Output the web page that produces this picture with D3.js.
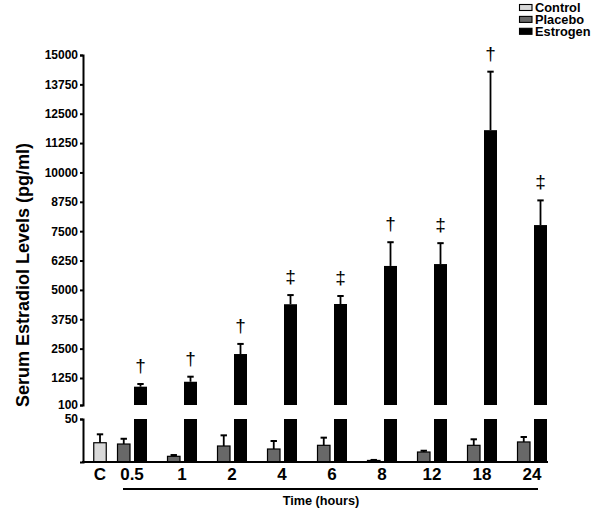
<!DOCTYPE html>
<html><head><meta charset="utf-8">
<script src="https://cdn.jsdelivr.net/npm/d3@7"></script>
<style>
body{margin:0;background:#fff;}
text{font-family:"Liberation Sans",Arial,sans-serif;}
</style></head>
<body><svg id="chart" width="600" height="515"></svg>
<script>
// ---- data ----
const times = ["0.5","1","2","4","6","8","12","18","24"];
const controlLabel = "C";
const controlMean = 22.4, controlErr = 32.2;
const placeboMean = [20.9, 6.6, 18.6, 15.1, 19.4, 1.8, 11.6, 19.4, 23.3];
const placeboErr  = [27.0, 8.1, 31.0, 24.4, 28.3, 2.4, 13.1, 26.4, 29.1];
const estrogenMean = [880, 1090, 2270, 4390, 4400, 6020, 6100, 11800, 7760];
const estrogenErr  = [995, 1305, 2700, 4780, 4740, 7030, 6990, 14290, 8810];
const sigMarks = ["†","†","†","‡","‡","†","‡","†","‡"];
const upperTicks = [100,1250,2500,3750,5000,6250,7500,8750,10000,11250,12500,13750,15000];
const lowerTicks = [50];
const legendNames = ["Control","Placebo","Estrogen"];
const colors = {Control:"#d9d9d9", Placebo:"#686868", Estrogen:"#000000"};

const svg = d3.select("#chart");
const axisX = 83;
const x = d3.scalePoint().domain(times).range([132, 532]);
const xC = x(times[0]) - 32;
const yU = d3.scaleLinear().domain([100, 15000]).range([405, 55]);
const yL = d3.scaleLinear().domain([0, 50]).range([462, 419]);
const bw = 12.5, gap = 2;

function drawWhisker(cx, yTop, yEnd){
  svg.append("line").attr("x1",cx).attr("x2",cx).attr("y1",yTop).attr("y2",yEnd)
    .attr("stroke","#000").attr("stroke-width",1.8);
  svg.append("line").attr("x1",cx-3.2).attr("x2",cx+3.2).attr("y1",yEnd).attr("y2",yEnd)
    .attr("stroke","#000").attr("stroke-width",2);
}

// control bar
svg.append("rect").attr("x",xC - bw/2).attr("y",yL(controlMean)).attr("width",bw)
  .attr("height",yL(0)-yL(controlMean)).attr("fill",colors.Control).attr("stroke","#000").attr("stroke-width",1.2);
drawWhisker(xC, yL(controlMean), yL(controlErr));

// placebo bars
times.forEach((t,i)=>{
  const x0 = x(t) - gap - bw;
  svg.append("rect").attr("x",x0).attr("y",yL(placeboMean[i])).attr("width",bw)
    .attr("height",yL(0)-yL(placeboMean[i])).attr("fill",colors.Placebo).attr("stroke","#000").attr("stroke-width",1.2);
  drawWhisker(x0+bw/2, yL(placeboMean[i]), yL(placeboErr[i]));
});

// estrogen bars (broken axis: upper and lower segments)
times.forEach((t,i)=>{
  const x0 = x(t) + gap;
  const v = estrogenMean[i];
  svg.append("rect").attr("x",x0).attr("y",yL(Math.min(v,50))).attr("width",bw+0.5)
    .attr("height",yL(0)-yL(Math.min(v,50))).attr("fill",colors.Estrogen);
  if (v > 100){
    svg.append("rect").attr("x",x0).attr("y",yU(v)).attr("width",bw+0.5)
      .attr("height",yU(100)-yU(v)).attr("fill",colors.Estrogen);
    drawWhisker(x0+bw/2+0.25, yU(v), yU(estrogenErr[i]));
    svg.append("text").attr("x",x0+bw/2+0.25).attr("y",yU(estrogenErr[i]) - 12)
      .attr("text-anchor","middle").attr("font-size",19).text(sigMarks[i]);
  }
});

// axes
function styleAxis(g){
  g.selectAll("path,line").attr("stroke","#000").attr("stroke-width",2);
  g.selectAll("text").attr("font-size",12).attr("font-weight","bold").attr("fill","#000")
   .attr("font-family","Liberation Sans, Arial, sans-serif");
}
svg.append("g").attr("transform",`translate(${axisX},0)`)
  .call(d3.axisLeft(yU).tickValues(upperTicks).tickSize(3).tickPadding(2).tickFormat(d3.format("d")))
  .call(styleAxis);
svg.append("g").attr("transform",`translate(${axisX},0)`)
  .call(d3.axisLeft(yL).tickValues(lowerTicks).tickSize(3).tickPadding(2).tickFormat(d3.format("d")))
  .call(styleAxis);

// x axis line
svg.append("line").attr("x1",axisX-1).attr("x2",548).attr("y1",yL(0)).attr("y2",yL(0))
  .attr("stroke","#000").attr("stroke-width",2);
// x labels
const xlab = svg.append("g").attr("font-size",17).attr("font-weight","bold").attr("text-anchor","middle");
xlab.append("text").attr("x",xC).attr("y",479.5).text(controlLabel);
times.forEach(t=>xlab.append("text").attr("x",x(t)).attr("y",479.5).text(t));

// time underline and title
svg.append("line").attr("x1",123).attr("x2",538).attr("y1",489).attr("y2",489)
  .attr("stroke","#000").attr("stroke-width",2);
svg.append("text").attr("x",321).attr("y",505).attr("text-anchor","middle")
  .attr("font-size",12.7).attr("font-weight","bold").text("Time (hours)");

// y title
svg.append("text").attr("transform","translate(29,275) rotate(-90)").attr("text-anchor","middle")
  .attr("font-size",18).attr("font-weight","bold").text("Serum Estradiol Levels (pg/ml)");

// legend
const lg = svg.append("g");
legendNames.forEach((n,i)=>{
  const yy = 4.5 + i*11.9;
  lg.append("rect").attr("x",519.5).attr("y",yy).attr("width",12.5).attr("height",6)
    .attr("fill",colors[n]).attr("stroke","#000").attr("stroke-width",1.1);
  lg.append("text").attr("x",535).attr("y",yy+7.5).attr("font-size",12.8).attr("font-weight","bold").text(n);
});
</script></body></html>
